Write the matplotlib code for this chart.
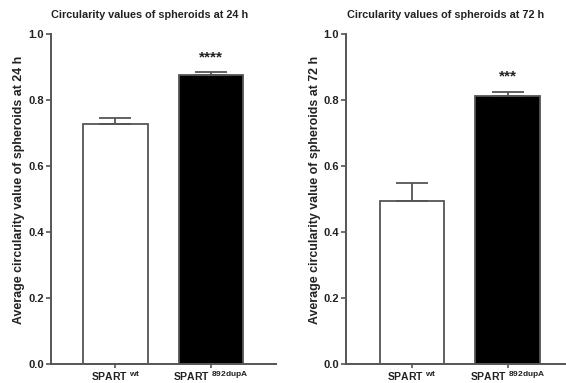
import matplotlib
matplotlib.use("Agg")
import matplotlib.pyplot as plt
import matplotlib._mathtext as _mt

_mt.SHRINK_FACTOR = 0.8

plt.rcParams['font.family'] = ['Liberation Sans', 'DejaVu Sans']
plt.rcParams['font.weight'] = 'bold'
plt.rcParams['mathtext.fontset'] = 'custom'
plt.rcParams['mathtext.rm'] = 'Liberation Sans:bold'
plt.rcParams['mathtext.bf'] = 'Liberation Sans:bold'
plt.rcParams['mathtext.it'] = 'Liberation Sans:bold'

categories = [r"SPART $^{\mathrm{wt}}$", r"SPART $^{\mathrm{892dupA}}$"]
means_24h = [0.727, 0.876]
sem_24h = [0.018, 0.008]
means_72h = [0.495, 0.812]
sem_72h = [0.053, 0.012]
stars_24h = "****"
stars_72h = "***"
titles = ["Circularity values of spheroids at 24 h", "Circularity values of spheroids at 72 h"]
ylabels = ["Average circularity value of spheroids at 24 h", "Average circularity value of spheroids at 72 h"]
yticks = [0.0, 0.2, 0.4, 0.6, 0.8, 1.0]

W, H = 566, 383
fig = plt.figure(figsize=(W/100, H/100), dpi=100)
axc = '#555555'
txtc = '#222222'

panels = [
    dict(x0=51, x1=276, c0=115.5, means=means_24h, sem=sem_24h, stars=stars_24h, star_y=0.93,
         title=titles[0], ylabel=ylabels[0], tx=150, lx=19),
    dict(x0=346, x1=566, c0=412, means=means_72h, sem=sem_72h, stars=stars_72h, star_y=0.87,
         title=titles[1], ylabel=ylabels[1], tx=446, lx=315),
]
spacing = 95.5
ytop, ybot = 34, 364

for p in panels:
    ax = fig.add_axes([p['x0']/W, (H-ybot)/H, (p['x1']-p['x0'])/W, (ybot-ytop)/H])
    xs = [0, 1]
    colors = ['white', 'black']
    ax.bar(xs, p['means'], width=0.68, color=colors, edgecolor=axc, linewidth=1.3, zorder=2)
    for x, m, s in zip(xs, p['means'], p['sem']):
        ax.errorbar([x], [m], yerr=[[0], [s]], fmt='none', ecolor=axc, elinewidth=1.3,
                    capsize=11.5, capthick=1.3, zorder=3)
    ax.text(1, p['star_y'], p['stars'], ha='center', va='center', fontsize=11, color=txtc, fontweight='bold')
    ax.set_xlim(-(p['c0']-p['x0'])/spacing, (p['x1']-p['c0'])/spacing)
    ax.set_ylim(0, 1.0)
    ax.set_yticks(yticks)
    ax.set_yticklabels([f"{v:.1f}" for v in yticks])
    ax.set_xticks(xs)
    ax.set_xticklabels(categories)
    for s in ['top', 'right']:
        ax.spines[s].set_visible(False)
    for s in ['left', 'bottom']:
        ax.spines[s].set_color(axc)
        ax.spines[s].set_linewidth(1.4)
    ax.tick_params(axis='y', length=3.5, width=1.2, color=axc, labelsize=8, labelcolor=txtc, pad=1.5)
    ax.tick_params(axis='x', length=3, width=1.2, color=axc, labelsize=7.5, labelcolor=txtc, pad=0.5)
    for lbl in ax.get_yticklabels() + ax.get_xticklabels():
        lbl.set_fontweight('bold')
    ax.set_facecolor('none')
    fig.text(p['lx']/W, 1 - 190/H, p['ylabel'], rotation=90, ha='center', va='center',
             fontsize=8.9, fontweight='bold', color=txtc)
    fig.text(p['tx']/W, 1 - 15/H, p['title'], ha='center', va='center', fontsize=7.8, fontweight='bold', color=txtc)

fig.savefig("out.png", dpi=100, facecolor='white')
